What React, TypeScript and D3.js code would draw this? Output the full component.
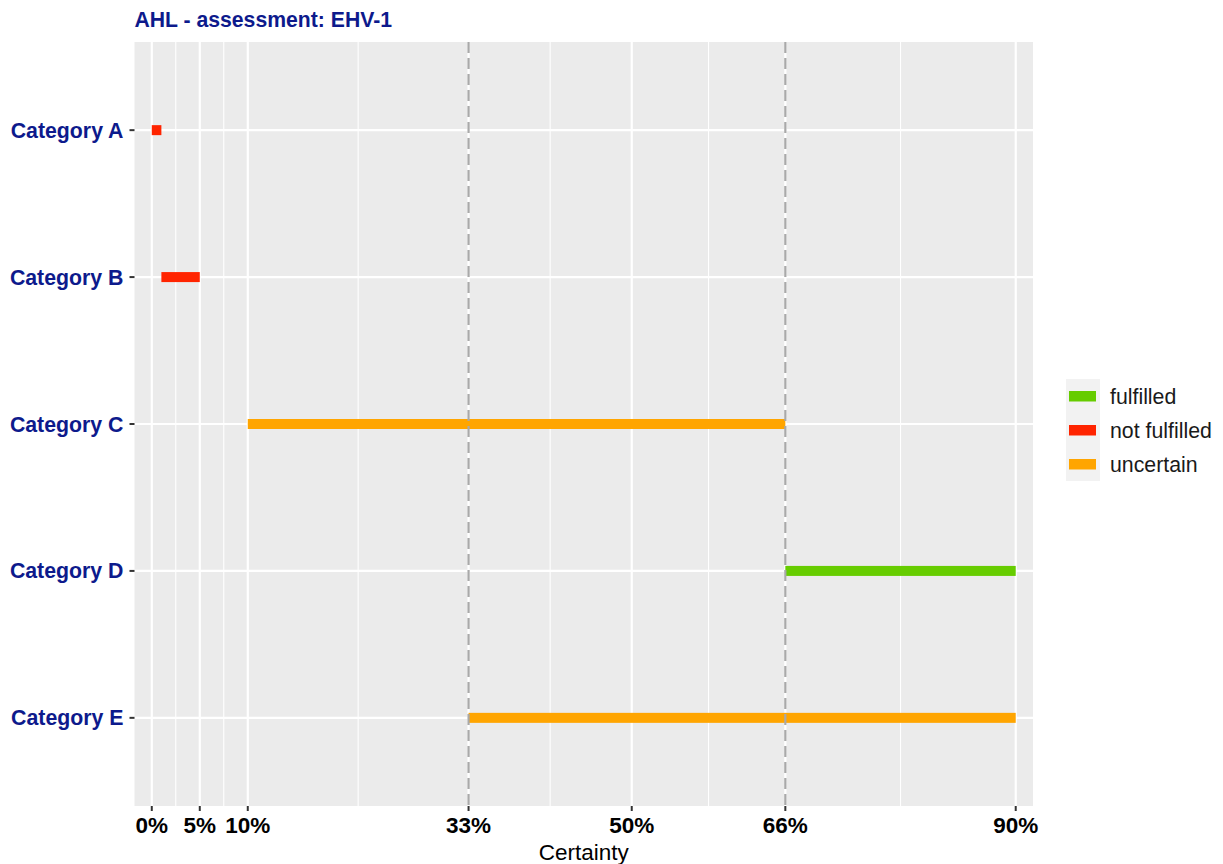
import React from "react";
import * as d3 from "d3";

const categories = ["Category A", "Category B", "Category C", "Category D", "Category E"];
const startValues = [0, 1, 10, 66, 33];
const endValues = [1, 5, 66, 90, 90];
const statuses = ["not fulfilled", "not fulfilled", "uncertain", "fulfilled", "uncertain"];
const legendLabels = ["fulfilled", "not fulfilled", "uncertain"];
const legendColors = ["#66cc00", "#ff2400", "#ffa500"];
const xBreaks = [0, 5, 10, 33, 50, 66, 90];
const xTickLabels = ["0%", "5%", "10%", "33%", "50%", "66%", "90%"];
const dashedRefs = [33, 66];
const titleText = "AHL - assessment: EHV-1";
const xTitle = "Certainty";

const W = 1223;
const H = 864;
const panel = { left: 134.5, right: 1033, top: 42, bottom: 806 };
const FONT = "'Liberation Sans', Arial, Helvetica, sans-serif";

export default function App() {
  const x = d3.scaleLinear().domain([-1.8, 91.8]).range([panel.left, panel.right]);
  const y = d3.scalePoint<string>().domain(categories).range([panel.top, panel.bottom]).padding(0.6);
  const color = d3.scaleOrdinal<string, string>().domain(legendLabels).range(legendColors);
  const minorBreaks = xBreaks.slice(1).map((b, i) => (b + xBreaks[i]) / 2);
  const barH = 10;

  return (
    <svg width={W} height={H} style={{ position: "absolute", left: 0, top: 0, background: "#fff" }} fontFamily={FONT}>
      <text x={panel.left} y={27} fontSize={21.2} fontWeight="bold" fill="#0d1a8c">{titleText}</text>
      <rect x={panel.left} y={panel.top} width={panel.right - panel.left} height={panel.bottom - panel.top} fill="#ebebeb" />
      {minorBreaks.map((b, i) => (
        <line key={"mn" + i} x1={x(b)} x2={x(b)} y1={panel.top} y2={panel.bottom} stroke="#fff" strokeWidth={1.1} />
      ))}
      {xBreaks.map((b, i) => (
        <line key={"mj" + i} x1={x(b)} x2={x(b)} y1={panel.top} y2={panel.bottom} stroke="#fff" strokeWidth={2.2} />
      ))}
      {categories.map((c, i) => (
        <line key={"yg" + i} x1={panel.left} x2={panel.right} y1={y(c)} y2={y(c)} stroke="#fff" strokeWidth={2.2} />
      ))}
      {categories.map((c, i) => (
        <rect key={"bar" + i} x={x(startValues[i])} width={x(endValues[i]) - x(startValues[i])}
          y={(y(c) as number) - barH / 2} height={barH} fill={color(statuses[i])} />
      ))}
      {dashedRefs.map((r, i) => (
        <line key={"dr" + i} x1={x(r)} x2={x(r)} y1={panel.top} y2={panel.bottom} stroke="#a9a9a9" strokeWidth={2.2} strokeDasharray="11,5" />
      ))}
      {categories.map((c, i) => (
        <g key={"yt" + i}>
          <line x1={panel.left - 5} x2={panel.left} y1={y(c)} y2={y(c)} stroke="#333" strokeWidth={2} />
          <text x={panel.left - 11} y={(y(c) as number) + 7.5} textAnchor="end" fontSize={21.3} fontWeight="bold" fill="#0d1a8c">{c}</text>
        </g>
      ))}
      {xBreaks.map((b, i) => (
        <g key={"xt" + i}>
          <line x1={x(b)} x2={x(b)} y1={panel.bottom} y2={panel.bottom + 5} stroke="#333" strokeWidth={2} />
          <text x={x(b)} y={833} textAnchor="middle" fontSize={22.5} fontWeight="bold" fill="#000">{xTickLabels[i]}</text>
        </g>
      ))}
      <text x={(panel.left + panel.right) / 2} y={860} textAnchor="middle" fontSize={22.5} fill="#000">{xTitle}</text>
      <rect x={1066} y={379} width={34} height={102} fill="#f2f2f2" />
      {legendLabels.map((l, i) => (
        <g key={"lg" + i}>
          <rect x={1069} y={391 + i * 34} width={27} height={10.5} fill={legendColors[i]} />
          <text x={1110} y={404 + i * 34} fontSize={21.3} fill="#1a1a1a">{l}</text>
        </g>
      ))}
    </svg>
  );
}
